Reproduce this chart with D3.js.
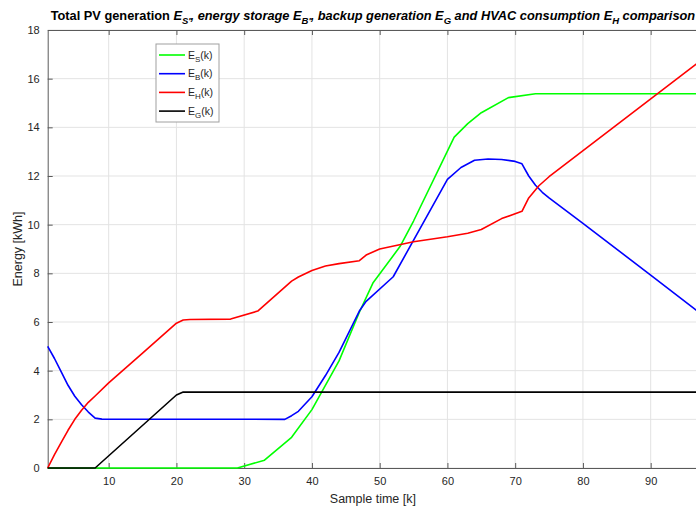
<!DOCTYPE html>
<html>
  <head>
    <meta charset="utf-8">
    <title>Energy comparison</title>
    <script src="https://d3js.org/d3.v7.min.js"></script>
    <style>
      body { margin: 0; background: #fff; }
      svg { font-family: "Liberation Sans", Arial, sans-serif; }
      .grid line { stroke: #e3e3e3; stroke-width: 1px; }
      .tick text { fill: #262626; font-size: 11px; }
    </style>
  </head>
  <body>
    <svg width="696" height="508"></svg>

    <script>
      // sample time axis settings
      var xDomain = [1, 97];
      var yDomain = [0, 18];
      var xTicks = [10, 20, 30, 40, 50, 60, 70, 80, 90];
      var yTicks = [0, 2, 4, 6, 8, 10, 12, 14, 16, 18];

      // E_S(k) - total PV generation, [k, kWh]
      var esData = [[1, 0], [29, 0], [33, 0.32], [37, 1.26], [40, 2.4], [44, 4.4], [47, 6.4],
        [49, 7.6], [53, 9.1], [55, 10.15], [61, 13.6], [63, 14.15], [65, 14.6], [69, 15.22],
        [73, 15.38], [97, 15.38]];

      // E_B(k) - energy storage
      var ebData = [[1, 5.0], [2, 4.5], [3, 3.95], [4, 3.4], [5, 2.95], [6, 2.6], [7, 2.3],
        [8, 2.05], [9, 2.01], [36, 2.0], [37, 2.15], [38, 2.33], [40, 2.93], [42, 3.8],
        [44, 4.75], [47, 6.45], [48, 6.85], [52, 7.86], [60, 11.86], [62, 12.35], [64, 12.65],
        [66, 12.7], [68, 12.68], [70, 12.6], [71, 12.5], [72, 12.0], [73, 11.62], [74, 11.33],
        [75, 11.1], [80, 10.05], [90, 7.93], [97, 6.43]];

      // E_H(k) - HVAC consumption
      var ehData = [[1, 0], [2, 0.55], [3, 1.05], [4, 1.55], [5, 2.0], [6, 2.37], [7, 2.7],
        [8, 2.96], [10, 3.5], [15, 4.72], [20, 5.95], [21, 6.08], [22, 6.1], [28, 6.12],
        [32, 6.45], [37, 7.68], [38, 7.85], [40, 8.12], [42, 8.3], [44, 8.4], [47, 8.52],
        [48, 8.75], [50, 9.0], [55, 9.3], [60, 9.5], [63, 9.65], [65, 9.8], [68, 10.25],
        [71, 10.55], [72, 11.1], [73.5, 11.6], [75, 11.97], [97, 16.66]];

      // E_G(k) - backup generation
      var egData = [[1, 0], [8, 0], [20, 3.0], [21, 3.12], [97, 3.12]];

      var seriesNames = ["S", "B", "H", "G"];
      var seriesColors = ["#00ff00", "#0000ff", "#ff0000", "#000000"];
      var seriesData = [esData, ebData, ehData, egData];

      var padL = 47.7, padR = 698.1, padT = 30, padB = 468;

      var x = d3.scaleLinear().domain(xDomain).range([padL, padR]);
      var y = d3.scaleLinear().domain(yDomain).range([padB, padT]);

      var svg = d3.select("svg");

      // grid
      var grid = svg.append("g").attr("class", "grid");
      grid.selectAll(".gx").data(xTicks).enter().append("line")
          .attr("x1", function(d) { return x(d); }).attr("x2", function(d) { return x(d); })
          .attr("y1", padT).attr("y2", padB);
      grid.selectAll(".gy").data(yTicks).enter().append("line")
          .attr("x1", padL).attr("x2", padR)
          .attr("y1", function(d) { return y(d); }).attr("y2", function(d) { return y(d); });

      // axes (ticks pointing inward like MATLAB)
      var axisColor = "#5a5a5a";
      var xAxis = svg.append("g").attr("transform", "translate(0," + padB + ")")
          .call(d3.axisBottom(x).tickValues(xTicks).tickSizeInner(-5).tickSizeOuter(0).tickPadding(9));
      var yAxis = svg.append("g").attr("transform", "translate(" + padL + ",0)")
          .call(d3.axisLeft(y).tickValues(yTicks).tickSizeInner(-5).tickSizeOuter(0).tickPadding(8));
      var xTop = svg.append("g").attr("transform", "translate(0," + padT + ")")
          .call(d3.axisTop(x).tickValues(xTicks).tickSizeInner(-5).tickSizeOuter(0).tickFormat(""));
      [xAxis, yAxis, xTop].forEach(function(a) {
        a.selectAll(".domain, .tick line").attr("stroke", axisColor);
      });

      // lines
      var line = d3.line()
          .x(function(d) { return x(d[0]); })
          .y(function(d) { return y(d[1]); });

      svg.append("g").selectAll("path")
          .data(seriesData)
          .enter().append("path")
          .attr("d", line)
          .attr("fill", "none")
          .attr("stroke", function(d, i) { return seriesColors[i]; })
          .attr("stroke-width", 1.6)
          .attr("stroke-linejoin", "round");

      // axis labels
      svg.append("text")
          .attr("x", (padL + padR) / 2).attr("y", 503)
          .attr("text-anchor", "middle")
          .attr("font-size", "12.5px").attr("fill", "#262626")
          .text("Sample time [k]");

      svg.append("text")
          .attr("transform", "translate(22," + (padT + padB) / 2 + ") rotate(-90)")
          .attr("text-anchor", "middle")
          .attr("font-size", "12.5px").attr("fill", "#262626")
          .text("Energy [kWh]");

      // title with subscripts
      var title = svg.append("text")
          .attr("x", (padL + padR) / 2).attr("y", 20)
          .attr("text-anchor", "middle")
          .attr("font-size", "12.8px").attr("font-weight", "bold").attr("fill", "#000");
      var parts = [
        ["Total PV generation ", false, false],
        ["E", true, false], ["S'", true, true],
        [", energy storage E", true, false], ["B'", true, true],
        [", backup generation E", true, false], ["G", true, true],
        [" and HVAC consumption E", true, false], ["H", true, true],
        [" comparison", true, false]
      ];
      parts.forEach(function(p, i) {
        var t = title.append("tspan").text(p[0]);
        if (p[1]) t.attr("font-style", "italic");
        if (p[2]) t.attr("font-size", "9.5px").attr("dy", 4);
        else if (i > 0 && parts[i - 1][2]) t.attr("dy", -4);
      });

      // legend
      var lg = svg.append("g");
      lg.append("rect")
          .attr("x", 156).attr("y", 44).attr("width", 63).attr("height", 78)
          .attr("fill", "#fff").attr("stroke", "#a0a0a0").attr("stroke-width", 1);
      seriesNames.forEach(function(name, i) {
        var yy = 55 + i * 18.7;
        lg.append("line")
            .attr("x1", 159).attr("x2", 185).attr("y1", yy).attr("y2", yy)
            .attr("stroke", seriesColors[i]).attr("stroke-width", 1.6);
        var t = lg.append("text").attr("x", 188).attr("y", yy + 3.5)
            .attr("font-size", "10.5px").attr("fill", "#262626");
        t.append("tspan").text("E");
        t.append("tspan").text(name).attr("font-size", "8px").attr("dy", 3);
        t.append("tspan").text("(k)").attr("dy", -3);
      });
    </script>
  </body>
</html>
